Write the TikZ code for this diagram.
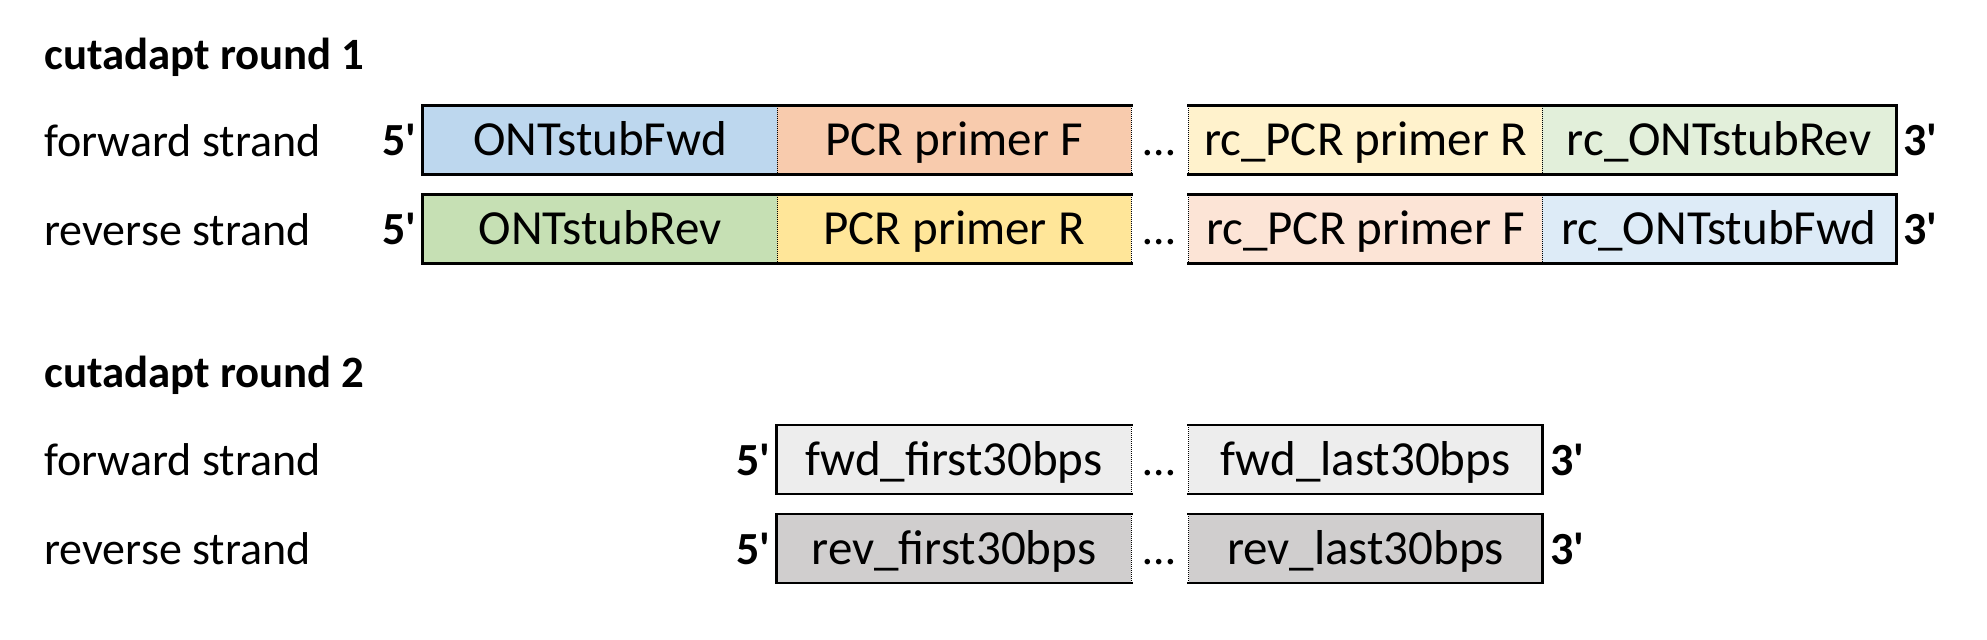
\documentclass[tikz,border=0pt]{standalone}
\usepackage{fontspec}
\setmainfont{Carlito}[Ligatures=TeXOff]
\usetikzlibrary{calc}
\definecolor{cBlueA}{HTML}{BDD7EE}
\definecolor{cOrangeA}{HTML}{F8CBAD}
\definecolor{cGoldB}{HTML}{FFF2CC}
\definecolor{cGreenB}{HTML}{E2EFDA}
\definecolor{cGreenA}{HTML}{C6E0B4}
\definecolor{cGoldA}{HTML}{FFE699}
\definecolor{cOrangeB}{HTML}{FCE4D6}
\definecolor{cBlueB}{HTML}{DDEBF7}
\definecolor{cGrayA}{HTML}{EDEDED}
\definecolor{cGrayB}{HTML}{D0CECE}
\tikzset{
  seg/.style={minimum width=176.8pt, minimum height=34pt, inner sep=0pt,
    text height=16pt, text depth=0pt, font=\fontsize{24.5}{28}\selectfont},
  outline/.style={line width=1.35pt, line cap=rect},
  inner/.style={line width=0.5pt, dash pattern=on 0.5pt off 0.5pt},
  lab/.style={anchor=base west, inner sep=0pt, font=\fontsize{23}{27}\selectfont},
  title/.style={anchor=base west, inner sep=0pt, font=\fontsize{22.4}{26}\selectfont\bfseries},
  endl/.style={anchor=base east, inner sep=0pt, font=\fontsize{23}{27}\selectfont\bfseries},
  endr/.style={anchor=base west, inner sep=0pt, font=\fontsize{23}{27}\selectfont\bfseries},
  dots/.style={anchor=base, inner sep=0pt, font=\fontsize{23}{27}\selectfont},
}
\begin{document}
\begin{tikzpicture}[x=0.5pt, y=-0.5pt]
\useasboundingbox (0,0) rectangle (1987,640);
% titles
\node[title] (t1) at (44,70) {cutadapt round 1};
\node[title] (t2) at (44,388) {cutadapt round 2};
% row labels
\node[lab] (l1) at (44,157) {forward strand};
\node[lab] (l2) at (44,246) {reverse strand};
\node[lab] (l3) at (44,476) {forward strand};
\node[lab] (l4) at (44,565) {reverse strand};
% round 1, forward
\node[seg, fill=cBlueA] (a1) at (600,140) {ONTstubFwd};
\node[seg, fill=cOrangeA] (a2) at (954,140) {PCR primer F};
\node[seg, fill=cGoldB] (a3) at (1365.5,140) {rc\_PCR primer R};
\node[seg, fill=cGreenB] (a4) at (1719,140) {rc\_ONTstubRev};
% round 1, reverse
\node[seg, fill=cGreenA] (b1) at (600,229) {ONTstubRev};
\node[seg, fill=cGoldA] (b2) at (954,229) {PCR primer R};
\node[seg, fill=cOrangeB] (b3) at (1365.5,229) {rc\_PCR primer F};
\node[seg, fill=cBlueB] (b4) at (1719,229) {rc\_ONTstubFwd};
% round 2
\node[seg, fill=cGrayA] (c1) at (954,459.5) {fwd\_first30bps};
\node[seg, fill=cGrayA] (c2) at (1365.5,459.5) {fwd\_last30bps};
\node[seg, fill=cGrayB] (d1) at (954,548.5) {rev\_first30bps};
\node[seg, fill=cGrayB] (d2) at (1365.5,548.5) {rev\_last30bps};
% borders round 1
\foreach \r in {a,b}{
  \draw[inner] (\r1.north east) -- (\r1.south east);
  \draw[inner] (\r2.north east) -- (\r2.south east);
  \draw[inner] (\r3.north west) -- (\r3.south west);
  \draw[inner] (\r3.north east) -- (\r3.south east);
  \draw[outline] (\r2.north east) -- (\r1.north west) -- (\r1.south west) -- (\r2.south east);
  \draw[outline] (\r3.north west) -- (\r4.north east) -- (\r4.south east) -- (\r3.south west);
}
% borders round 2
\foreach \r in {c,d}{
  \draw[inner] (\r1.north east) -- (\r1.south east);
  \draw[inner] (\r2.north west) -- (\r2.south west);
  \draw[outline] (\r1.north east) -- (\r1.north west) -- (\r1.south west) -- (\r1.south east);
  \draw[outline] (\r2.north west) -- (\r2.north east) -- (\r2.south east) -- (\r2.south west);
}
% end labels
\node[endl] (p1) at ([xshift=-3pt,yshift=-8pt]a1.west) {5'};
\node[endl] (p2) at ([xshift=-3pt,yshift=-8pt]b1.west) {5'};
\node[endl] (p3) at ([xshift=-3pt,yshift=-8pt]c1.west) {5'};
\node[endl] (p4) at ([xshift=-3pt,yshift=-8pt]d1.west) {5'};
\node[endr] (q1) at ([xshift=3.5pt,yshift=-8pt]a4.east) {3'};
\node[endr] (q2) at ([xshift=3.5pt,yshift=-8pt]b4.east) {3'};
\node[endr] (q3) at ([xshift=3.5pt,yshift=-8pt]c2.east) {3'};
\node[endr] (q4) at ([xshift=3.5pt,yshift=-8pt]d2.east) {3'};
% ellipses
\node[dots] (e1) at ($(a2.east)!0.5!(a3.west)+(0,-8pt)$) {…};
\node[dots] (e2) at ($(b2.east)!0.5!(b3.west)+(0,-8pt)$) {…};
\node[dots] (e3) at ($(c1.east)!0.5!(c2.west)+(0,-8pt)$) {…};
\node[dots] (e4) at ($(d1.east)!0.5!(d2.west)+(0,-8pt)$) {…};
\end{tikzpicture}
\end{document}
